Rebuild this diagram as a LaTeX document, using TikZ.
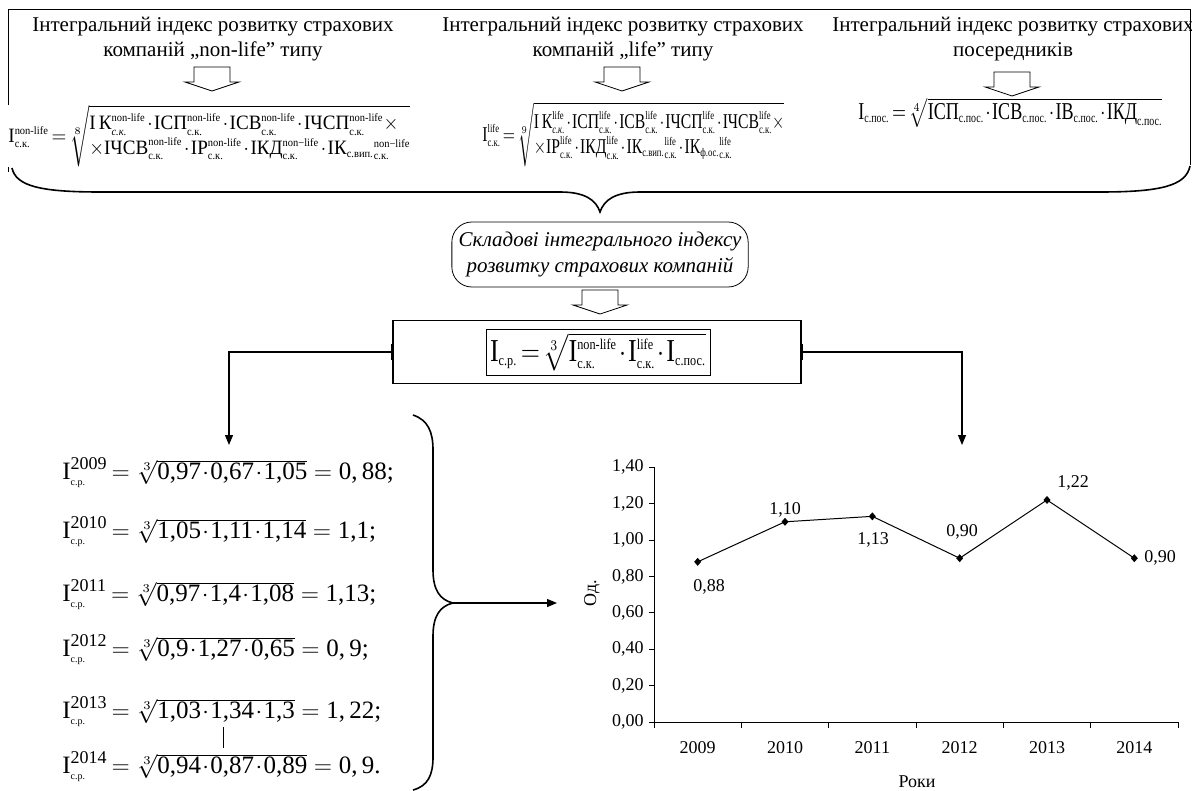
\documentclass[tikz,border=0pt]{standalone}
\usepackage{amsmath}
\usepackage{graphicx}
\usepackage{fontspec}
\setmainfont{Liberation Serif}
\usetikzlibrary{arrows.meta}
\newcommand{\T}[1]{\text{#1}}
\newcommand{\sz}[2]{\text{\fontsize{#1}{#1}\selectfont #2}}
\newcommand{\sk}{\sz{5.5}{с.к.}}
\newcommand{\spos}{\sz{5.5}{с.пос.}}
\newcommand{\nl}{\sz{5.5}{non-life}}
\newcommand{\nm}{\sz{5.5}{non−life}}
\newcommand{\lf}{\sz{5.5}{life}}
\newcommand{\md}{\mkern1mu{\cdot}\mkern1mu}
\newcommand{\tightmath}{\medmuskip=1.5mu\thickmuskip=2.5mu\relax}
\tikzset{
  title/.style={align=center,font=\fontsize{10.5}{12.5}\selectfont,inner sep=1pt},
  formula/.style={font=\fontsize{10}{12}\selectfont\tightmath,inner sep=0pt,fill=white},
  yearrow/.style={font=\fontsize{12.5}{14}\selectfont,inner sep=0pt,anchor=west},
  chart/.style={font=\fontsize{9}{10}\selectfont,inner sep=1pt},
  conn/.style={-{Triangle[length=5pt,width=4pt]},line width=0.6pt},
  blockarrow/.pic={
    \draw[line width=0.4pt] (-9pt,0) -- (-9pt,-7.5pt) -- (-13.5pt,-7.5pt) -- (0,-12pt)
      -- (13.5pt,-7.5pt) -- (9pt,-7.5pt) -- (9pt,0) -- cycle;
  }
}
\begin{document}
\begin{tikzpicture}[x=0.5pt,y=-0.5pt]
  \useasboundingbox (0,0) rectangle (1192,791);
  % frame and brace at the top
  \draw[line width=0.5pt] (8,172) -- (8,10) -- (1190,10) -- (1190,165);
  \draw[line width=0.8pt] (12,168) .. controls (16,186) and (40,192) .. (100,192) -- (560,192)
    .. controls (585,192) and (596,200) .. (600,212) .. controls (604,200) and (615,192) .. (640,192)
    -- (1100,192) .. controls (1160,192) and (1186,186) .. (1190,166);
  % titles
  \node[title] (t1) at (213,39) {Інтегральний індекс розвитку страхових\\компаній „non-life” типу};
  \node[title] (t2) at (623,39) {Інтегральний індекс розвитку страхових\\компаній „life” типу};
  \node[title] (t3) at (1013,39) {Інтегральний індекс розвитку страхових\\посередників};
  \pic at (212,67) {blockarrow};
  \pic at (622,67) {blockarrow};
  \pic at (1012,72) {blockarrow};
  % formulas of the three groups
  \node[formula,anchor=west] (f1) at (8,136) {\resizebox*{201pt}{31pt}{$\T{I}^{\nl}_{\sk}=\sqrt[8]{\begin{array}{@{}l@{}}
    \T{I\,К}^{\nl}_{\sz{5.5}{\itshape с.к.}}\cdot\T{ІСП}^{\nl}_{\sk}\cdot\T{ІСВ}^{\nl}_{\sk}\cdot\T{ІЧСП}^{\nl}_{\sk}\times\\
    \times\T{ІЧСВ}^{\nl}_{\sk}\cdot\T{ІР}^{\nl}_{\sk}\cdot\T{ІКД}^{\nm}_{\sk}\cdot\T{ІК}_{\sz{5.5}{с.вип.}}{}^{\nm}_{\sk}
    \end{array}}$}};
  \node[formula,anchor=west] (f2) at (482,134.5) {\resizebox*{151pt}{32pt}{$\T{I}^{\lf}_{\sk}=\sqrt[9]{\begin{array}{@{}l@{}}
    \T{I\,К}^{\lf}_{\sz{5.5}{\itshape с.к.}}\cdot\T{ІСП}^{\lf}_{\sk}\cdot\T{ІСВ}^{\lf}_{\sk}\cdot\T{ІЧСП}^{\lf}_{\sk}\cdot\T{ІЧСВ}^{\lf}_{\sk}\times\\
    \times\T{ІР}^{\lf}_{\sk}\cdot\T{ІКД}^{\lf}_{\sk}\cdot\T{ІК}_{\sz{5.5}{с.вип.}}{}^{\lf}_{\sk}\cdot\T{ІК}_{\sz{5.5}{ф.ос.}}{}^{\lf}_{\sk}
    \end{array}}$}};
  \node[formula,anchor=west] (f3) at (858,113) {\resizebox*{152pt}{15pt}{$\T{I}_{\spos}=\sqrt[4]{\T{ІСП}_{\spos}\cdot\T{ІСВ}_{\spos}\cdot\T{ІВ}_{\spos}\cdot\T{ІКД}_{\spos}}$}};
  % components
  \node[draw,rounded corners=10pt,minimum width=148pt,minimum height=32.5pt,align=center,
    font=\fontsize{10.5}{13}\selectfont\itshape] (skl) at (600,254.5)
    {Складові інтегрального індексу\\розвитку страхових компаній};
  \pic at (600,290) {blockarrow};
  \node[draw,line width=0.8pt,minimum width=204pt,minimum height=31.5pt] (srbox) at (597,352) {};
  \node[draw,inner sep=2pt,font=\fontsize{15}{17}\selectfont\tightmath] (srf) at (598,352)
    {\resizebox*{108pt}{19pt}{$\T{I}_{\sz{7}{с.р.}}=\sqrt[3]{\T{I}^{\sz{7}{non-life}}_{\sz{7}{с.к.}}\cdot\T{I}^{\sz{7}{life}}_{\sz{7}{с.к.}}\cdot\T{I}_{\sz{7}{с.пос.}}}$}};
  \coordinate (lend) at (229,445);
  \coordinate (rend) at (962,445);
  \draw[conn,{Bar[width=8pt]}-{Triangle[length=5pt,width=4pt]}] (srbox.west) -| (lend);
  \draw[conn,{Bar[width=8pt]}-{Triangle[length=5pt,width=4pt]}] (srbox.east) -| (rend);
  % yearly values
  \foreach \yr/\yy/\rad/\res in {
      2009/473/{\T{0,97}\md\T{0,67}\md\T{1,05}}/{0,\,88;},
      2010/532/{\T{1,05}\md\T{1,11}\md\T{1,14}}/{1,1;},
      2011/595/{\T{0,97}\md\T{1,4}\md\T{1,08}}/{1,13;},
      2012/650/{\T{0,9}\md\T{1,27}\md\T{0,65}}/{0,\,9;},
      2013/712/{\T{1,03}\md\T{1,34}\md\T{1,3}}/{1,\,22;},
      2014/767/{\T{0,94}\md\T{0,87}\md\T{0,89}}/{0,\,9.}}
    \node[yearrow] (r\yr) at (62,\yy) {$\T{I}^{\sz{9}{\yr}}_{\sz{5}{с.р.}}\mkern-2mu=\sqrt[3]{\rad}=\T{\res}$};
  \draw[line width=0.5pt] (223,727) -- (223,748);
  \draw[line width=0.8pt] (413,415) .. controls (428,420) and (433,432) .. (433,450) -- (433,570)
    .. controls (433,590) and (440,600) .. (453,603) .. controls (440,606) and (433,616) .. (433,636)
    -- (433,757) .. controls (433,775) and (428,786) .. (413,790);
  \coordinate (btip) at (453,603);
  \coordinate (chartin) at (557,603);
  \draw[conn] (btip) -- (chartin);
  % chart
  \draw[line width=0.5pt] (654,467) -- (654,722) -- (1178,722);
  \foreach \v/\lab in {0/{0,00},1/{0,20},2/{0,40},3/{0,60},4/{0,80},5/{1,00},6/{1,20},7/{1,40}}{
    \draw[line width=0.5pt] (649,{722-36.4*\v}) -- (654,{722-36.4*\v});
    \node[chart,anchor=east] (yt\v) at (646,{722-36.4*\v}) {\lab};
  }
  \foreach \i in {0,...,6}
    \draw[line width=0.5pt] ({654+87.33*\i},722) -- ({654+87.33*\i},728);
  \foreach \yr [count=\i from 0] in {2009,...,2014}
    \node[chart] (yr\yr) at ({654+87.33*(\i+0.5)},748) {\yr};
  \foreach \val [count=\i from 0] in {0.88,1.10,1.13,0.90,1.22,0.90}
    \coordinate (p\i) at ({654+87.33*(\i+0.5)},{722-182*\val});
  \draw[line width=0.5pt] (p0) -- (p1) -- (p2) -- (p3) -- (p4) -- (p5);
  \foreach \i in {0,...,5}
    \fill (p\i) ++(0,-4) -- ++(3.5,4) -- ++(-3.5,4) -- ++(-3.5,-4) -- cycle;
  \node[chart] (v0) at (709,587) {0,88};
  \node[chart] (v1) at (785,510) {1,10};
  \node[chart] (v2) at (873,540) {1,13};
  \node[chart] (v3) at (962,532) {0,90};
  \node[chart] (v4) at (1073,483) {1,22};
  \node[chart] (v5) at (1160,558) {0,90};
  \node[chart,rotate=90] (ylab) at (592,593) {Од.};
  \node[chart] (xlab) at (917,782) {Роки};
\end{tikzpicture}
\end{document}
